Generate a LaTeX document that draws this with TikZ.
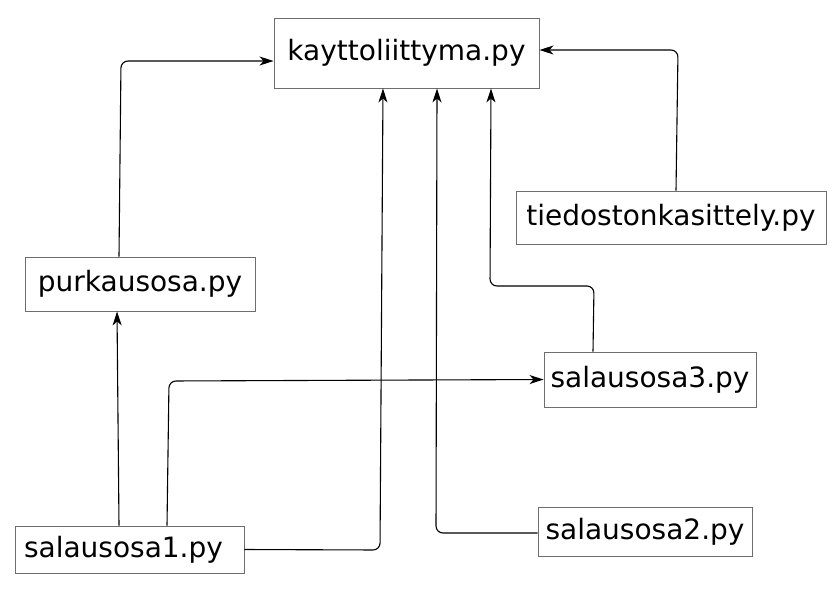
\documentclass[tikz,border=0pt]{standalone}
\usepackage{fontspec}
\setmainfont{DejaVu Sans}
\usepackage{xcolor}
\definecolor{BoxCol}{RGB}{110,110,110}
\usetikzlibrary{arrows.meta}
\tikzstyle{Module}=[draw=BoxCol,line width=0.9pt,inner sep=0pt,
font=\fontsize{28}{34}\selectfont]
\tikzstyle{Link}=[draw=black,line width=1.1pt,rounded corners=7pt,
-{Stealth[length=14pt,width=9pt,inset=4pt]}]
\begin{document}
\begin{tikzpicture}[x=1pt,y=-1pt]
        \useasboundingbox(0,0)rectangle(832,595);
        \node[Module,minimum width=265pt,minimum height=70pt](kayt)at(406.5,53){kayttoliittyma.py};
        \node[Module,minimum width=310pt,minimum height=53pt](tied)at(671,217.5){tiedostonkasittely.py};
        \node[Module,minimum width=230pt,minimum height=54pt](purk)at(140,284){purkausosa.py};
        \node[Module,minimum width=212pt,minimum height=55pt](sal3)at(650,379.5){salausosa3.py};
        \node[Module,minimum width=214pt,minimum height=49pt](sal2)at(645,531.5){salausosa2.py};
        \node[Module,text width=211pt,inner xsep=9pt,minimum height=47pt,align=left](sal1)at(129.5,549.5){salausosa1.py};
        \draw[Link]([xshift=-21pt]purk.north)--(121,61)--([yshift=-8pt]kayt.west);
        \draw[Link]([xshift=5pt]tied.north)--(678,50)--([yshift=3pt]kayt.east);
        \draw[Link]([xshift=-10.5pt]sal1.north)--([xshift=-23pt]purk.south);
        \draw[Link]([xshift=37.5pt]sal1.north)--(169,381)--(sal3.west);
        \draw[Link](sal1.east)--(380,550)--([xshift=-23.5pt]kayt.south);
        \draw[Link]([yshift=-1.5pt]sal2.west)--(436,533)--([xshift=30.5pt]kayt.south);
        \draw[Link]([xshift=-57pt]sal3.north)--(594,286)--(490,286)--([xshift=84.5pt]kayt.south);
    \end{tikzpicture}
\end{document}
